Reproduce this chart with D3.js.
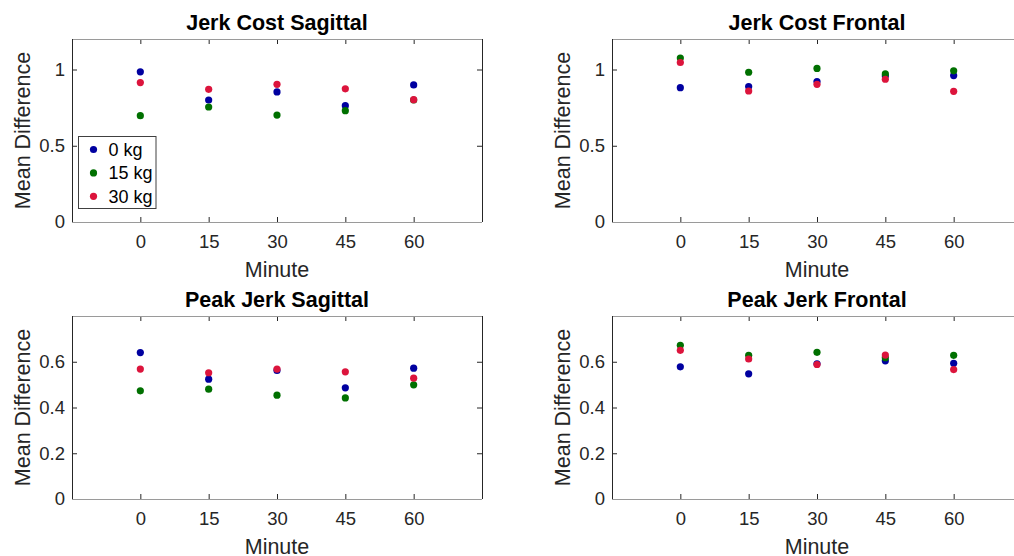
<!DOCTYPE html>
<html>
<head>
<meta charset="utf-8">
<script src="https://cdn.jsdelivr.net/npm/d3@7"></script>
<style>
  body { margin: 0; background: #fff; }
  svg { display: block; font-family: "Liberation Sans", Arial, Helvetica, sans-serif; }
</style>
</head>
<body>
<div id="chart"></div>
<script>
// time points (minutes) and load groups
const minutes = [0, 15, 30, 45, 60];
const loads = ["0 kg", "15 kg", "30 kg"];
const loadColors = ["#0000a0", "#007000", "#dc143c"];

// Jerk cost sagittal
const jcSag0 = [0.985, 0.800, 0.853, 0.763, 0.899];
const jcSag15 = [0.697, 0.754, 0.701, 0.730, 0.800];
const jcSag30 = [0.914, 0.870, 0.903, 0.873, 0.802];

// Jerk cost frontal
const jcFro0 = [0.881, 0.888, 0.921, 0.958, 0.960];
const jcFro15 = [1.075, 0.982, 1.007, 0.971, 0.991];
const jcFro30 = [1.046, 0.859, 0.903, 0.936, 0.857];

// Peak jerk sagittal
const pjSag0 = [0.640, 0.524, 0.562, 0.486, 0.572];
const pjSag15 = [0.473, 0.480, 0.454, 0.442, 0.499];
const pjSag30 = [0.568, 0.552, 0.568, 0.556, 0.528];

// Peak jerk frontal
const pjFro0 = [0.578, 0.547, 0.591, 0.604, 0.593];
const pjFro15 = [0.672, 0.628, 0.641, 0.618, 0.628];
const pjFro30 = [0.650, 0.612, 0.588, 0.629, 0.566];

const xDomain = [-15, 75];
const jcTicks = [0, 0.5, 1];
const pjTicks = [0, 0.2, 0.4, 0.6];

const panels = [
    { title: "Jerk Cost Sagittal", series: [jcSag0, jcSag15, jcSag30], yMax: 1.2, yTicks: jcTicks, legend: true, col: 0, row: 0 },
    { title: "Jerk Cost Frontal", series: [jcFro0, jcFro15, jcFro30], yMax: 1.2, yTicks: jcTicks, legend: false, col: 1, row: 0 },
    { title: "Peak Jerk Sagittal", series: [pjSag0, pjSag15, pjSag30], yMax: 0.8, yTicks: pjTicks, legend: false, col: 0, row: 1 },
    { title: "Peak Jerk Frontal", series: [pjFro0, pjFro15, pjFro30], yMax: 0.8, yTicks: pjTicks, legend: false, col: 1, row: 1 }
];

const width = 1014, height = 556;
const boxW = 410, boxH = 183;
const lefts = [72, 612], tops = [39, 316];
const textColor = "#262626";

const svg = d3.select("#chart")
    .append("svg")
    .attr("width", width)
    .attr("height", height);

panels.forEach(p => {
    const g = svg.append("g")
        .attr("transform", `translate(${lefts[p.col]}, ${tops[p.row]})`);

    const x = d3.scaleLinear().domain(xDomain).range([0, boxW]);
    const y = d3.scaleLinear().domain([0, p.yMax]).range([boxH, 0]);

    // axes with inward ticks
    const styleAxis = sel => {
        sel.select(".domain").remove();
        sel.selectAll(".tick line").attr("stroke", textColor);
        sel.selectAll(".tick text").attr("fill", textColor).style("font-size", "18.5px");
    };

    g.append("g")
        .attr("transform", `translate(0, ${boxH})`)
        .call(d3.axisBottom(x).tickValues(minutes).tickSize(-5).tickPadding(13))
        .call(styleAxis);
    g.append("g")
        .call(d3.axisTop(x).tickValues(minutes).tickSize(-5).tickFormat(""))
        .call(styleAxis);
    g.append("g")
        .call(d3.axisLeft(y).tickValues(p.yTicks).tickSize(-5).tickPadding(7).tickFormat(d3.format("")))
        .call(styleAxis);
    g.append("g")
        .attr("transform", `translate(${boxW}, 0)`)
        .call(d3.axisRight(y).tickValues(p.yTicks).tickSize(-5).tickFormat(""))
        .call(styleAxis);

    // box
    const [x0, x1] = x.range();
    const [y0, y1] = y.range();
    g.append("line").attr("x1", x0).attr("x2", x1).attr("y1", y1 + 0.5).attr("y2", y1 + 0.5).attr("stroke", "#9a9a9a");
    g.append("line").attr("x1", x0).attr("x2", x1).attr("y1", y0 + 0.5).attr("y2", y0 + 0.5).attr("stroke", "#9a9a9a");
    g.append("line").attr("x1", x0 + 0.5).attr("x2", x0 + 0.5).attr("y1", y1).attr("y2", y0).attr("stroke", textColor);
    g.append("line").attr("x1", x1 + 0.5).attr("x2", x1 + 0.5).attr("y1", y1).attr("y2", y0).attr("stroke", textColor);

    // points
    p.series.forEach((vals, i) => {
        g.selectAll(null)
            .data(vals)
            .enter()
            .append("circle")
            .attr("cx", (d, j) => x(minutes[j]))
            .attr("cy", d => y(d))
            .attr("r", 3.6)
            .attr("fill", loadColors[i]);
    });

    // labels
    g.append("text")
        .attr("x", boxW / 2)
        .attr("y", -9)
        .attr("text-anchor", "middle")
        .style("font-size", "21.5px")
        .style("font-weight", "bold")
        .attr("fill", "#000")
        .text(p.title);

    g.append("text")
        .attr("x", boxW / 2)
        .attr("y", boxH + 55)
        .attr("text-anchor", "middle")
        .style("font-size", "21.5px")
        .attr("fill", textColor)
        .text("Minute");

    g.append("text")
        .attr("transform", `translate(-42, ${boxH / 2}) rotate(-90)`)
        .attr("text-anchor", "middle")
        .style("font-size", "21.5px")
        .attr("fill", textColor)
        .text("Mean Difference");

    // legend
    if (p.legend) {
        const lg = g.append("g").attr("transform", "translate(6.5, 97.5)");
        lg.append("rect")
            .attr("width", 77.5)
            .attr("height", 72)
            .attr("fill", "#fff")
            .attr("stroke", "#404040");
        loads.forEach((name, i) => {
            lg.append("circle")
                .attr("cx", 15)
                .attr("cy", 13 + i * 23.4)
                .attr("r", 3.6)
                .attr("fill", loadColors[i]);
            lg.append("text")
                .attr("x", 30)
                .attr("y", 13 + i * 23.4)
                .attr("dy", "0.36em")
                .style("font-size", "18px")
                .attr("fill", "#000")
                .text(name);
        });
    }
});
</script>
</body>
</html>
